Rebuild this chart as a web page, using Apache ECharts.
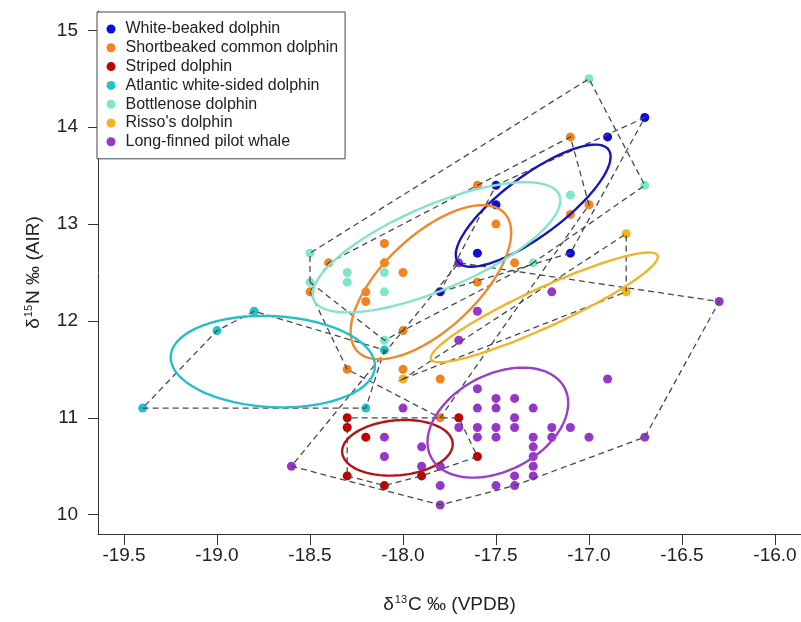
<!DOCTYPE html>
<html>
<head>
<meta charset="utf-8">
<script src="https://cdn.jsdelivr.net/npm/echarts@6/dist/echarts.min.js"></script>
<style>
  html, body { margin: 0; padding: 0; background: #fff; }
  #chart { width: 801px; height: 622px; }
</style>
</head>
<body>
<div id="chart"></div>
<script>
// Arten (Reihenfolge wie Legende)
const speciesNames = [
  "White-beaked dolphin",
  "Shortbeaked common dolphin",
  "Striped dolphin",
  "Atlantic white-sided dolphin",
  "Bottlenose dolphin",
  "Risso's dolphin",
  "Long-finned pilot whale"
];

// d13C (x) und d15N (y) je Art
const whiteBeakedX = [-16.7, -16.9, -17.5, -17.5, -17.6, -17.1, -17.8];
const whiteBeakedY = [14.1, 13.9, 13.4, 13.2, 12.7, 12.7, 12.3];

const commonX = [-17.1, -17.0, -17.1, -17.6, -17.5, -18.1, -18.4, -18.1, -18.0, -18.5,
                 -18.2, -18.2, -17.4, -17.6, -18.0, -18.3, -18.0, -17.8, -17.8];
const commonY = [13.9, 13.2, 13.1, 13.4, 13.0, 12.8, 12.6, 12.6, 12.5, 12.3,
                 12.3, 12.2, 12.6, 12.4, 11.9, 11.5, 11.5, 11.4, 11.0];

const stripedX = [-18.3, -18.3, -18.2, -17.7, -17.6, -18.3, -18.1, -17.9];
const stripedY = [11.0, 10.9, 10.8, 11.0, 10.6, 10.4, 10.3, 10.4];

const atlanticX = [-19.4, -19.0, -18.8, -18.1, -18.2];
const atlanticY = [11.1, 11.9, 12.1, 11.7, 11.1];

const bottlenoseX = [-17.0, -16.7, -17.1, -18.5, -18.5, -18.3, -18.3, -18.1, -18.1, -17.3, -18.1];
const bottlenoseY = [14.5, 13.4, 13.3, 12.7, 12.4, 12.5, 12.4, 12.5, 12.3, 12.6, 11.8];

const rissoX = [-16.8, -16.8, -18.0];
const rissoY = [12.9, 12.3, 11.4];

const pilotX = [-17.7, -17.6, -17.2, -16.3, -17.7, -16.9, -16.7, -17.6, -17.5, -17.4,
                -18.0, -17.6, -17.5, -17.3, -17.4, -17.7, -17.6, -17.5, -17.4, -17.2,
                -17.1, -18.1, -17.6, -17.5, -17.3, -17.2, -17.0, -17.9, -17.3, -18.1,
                -17.3, -17.9, -17.8, -17.3, -17.4, -17.3, -17.8, -17.5, -17.4, -17.8, -18.6];
const pilotY = [12.6, 12.1, 12.3, 12.2, 11.8, 11.4, 10.8, 11.3, 11.2, 11.2,
                11.1, 11.1, 11.1, 11.1, 11.0, 10.9, 10.9, 10.9, 10.9, 10.9,
                10.9, 10.8, 10.8, 10.8, 10.8, 10.8, 10.8, 10.7, 10.7, 10.6,
                10.6, 10.5, 10.5, 10.5, 10.4, 10.4, 10.3, 10.3, 10.3, 10.1, 10.5];

const speciesX = [whiteBeakedX, commonX, stripedX, atlanticX, bottlenoseX, rissoX, pilotX];
const speciesY = [whiteBeakedY, commonY, stripedY, atlanticY, bottlenoseY, rissoY, pilotY];

// Standardellipsen: Mittelpunkt und zwei Halbachsen-Vektoren (aus der Abbildung geschaetzt)
const ellipseCX = [-17.30, -17.85, -18.03, -18.70, -17.82, -17.24, -17.49];
const ellipseCY = [13.19, 12.40, 10.69, 11.58, 12.76, 12.14, 10.95];
const ellipseUX = [0.405, 0.396, 0.297, 0.549, 0.660, 0.609, 0.359];
const ellipseUY = [0.579, 0.712, 0.050, -0.055, 0.541, 0.536, 0.358];
const ellipseVX = [-0.096, -0.172, -0.013, 0.013, -0.088, -0.044, -0.119];
const ellipseVY = [0.250, 0.355, 0.283, 0.469, 0.399, 0.183, 0.441];

// Achsenbeschriftung
const xTicks = [-19.5, -19.0, -18.5, -18.0, -17.5, -17.0, -16.5, -16.0];
const yTicks = [10, 11, 12, 13, 14, 15];

const pointColors = ['#0c0cdc', '#f3831f', '#c00000', '#22c3c9', '#80e6c9', '#f7b31e', '#9538c9'];
const ellipseColors = ['#1717b4', '#ee8a2a', '#b41414', '#25bfc6', '#86e3cb', '#f2b52a', '#9a3fc7'];

function convexHull(xs, ys) {
  const pts = xs.map((x, i) => [x, ys[i]]).sort((a, b) => a[0] - b[0] || a[1] - b[1]);
  const cross = (o, a, b) => (a[0] - o[0]) * (b[1] - o[1]) - (a[1] - o[1]) * (b[0] - o[0]);
  const lower = [], upper = [];
  for (const p of pts) {
    while (lower.length >= 2 && cross(lower[lower.length - 2], lower[lower.length - 1], p) <= 0) lower.pop();
    lower.push(p);
  }
  for (let i = pts.length - 1; i >= 0; i--) {
    const p = pts[i];
    while (upper.length >= 2 && cross(upper[upper.length - 2], upper[upper.length - 1], p) <= 0) upper.pop();
    upper.push(p);
  }
  upper.pop();
  lower.pop();
  return lower.concat(upper);
}

document.addEventListener("DOMContentLoaded", () => {
  const chartDom = document.getElementById('chart');
  const myChart = echarts.init(chartDom);

  const font = 'Liberation Sans, Arial, sans-serif';
  const hulls = speciesX.map((xs, i) => convexHull(xs, speciesY[i]));

  // 1. Punkte je Art
  const scatterSeries = speciesNames.map((name, i) => ({
    name: name,
    type: 'scatter',
    symbol: 'circle',
    symbolSize: 9,
    z: 2,
    silent: true,
    itemStyle: { color: pointColors[i], opacity: 1 },
    data: speciesX[i].map((x, k) => [x, speciesY[i][k]])
  }));

  // 2. Konvexe Huellen (gestrichelt)
  const hullSeries = {
    name: 'hulls',
    type: 'custom',
    z: 3,
    silent: true,
    data: speciesNames.map((n, i) => [ellipseCX[i], ellipseCY[i], i]),
    renderItem: (params, api) => {
      const hull = hulls[api.value(2)];
      return {
        type: 'polygon',
        shape: { points: hull.map(p => api.coord(p)) },
        style: { fill: 'none', stroke: '#4a4a4a', lineWidth: 1.3, lineDash: [6, 4] }
      };
    }
  };

  // 3. Ellipsen
  const ellipseSeries = {
    name: 'ellipses',
    type: 'custom',
    z: 4,
    silent: true,
    data: speciesNames.map((n, i) => [ellipseCX[i], ellipseCY[i], i]),
    renderItem: (params, api) => {
      const i = api.value(2);
      const pts = [];
      for (let k = 0; k < 120; k++) {
        const t = k / 120 * Math.PI * 2;
        pts.push(api.coord([
          ellipseCX[i] + ellipseUX[i] * Math.cos(t) + ellipseVX[i] * Math.sin(t),
          ellipseCY[i] + ellipseUY[i] * Math.cos(t) + ellipseVY[i] * Math.sin(t)
        ]));
      }
      return {
        type: 'polygon',
        shape: { points: pts },
        style: { fill: 'none', stroke: ellipseColors[i], lineWidth: 2.4 }
      };
    }
  };

  const richName = {
    n: { fontSize: 19, fontFamily: font, color: '#222', lineHeight: 22 },
    s: { fontSize: 11, fontFamily: font, color: '#222', lineHeight: 22, verticalAlign: 'top', padding: [0, 1, 0, 1] }
  };

  const option = {
    animation: false,
    backgroundColor: '#fff',
    textStyle: { fontFamily: font },
    grid: { left: 98, right: 0, top: 11, bottom: 88 },
    legend: {
      data: speciesNames,
      orient: 'vertical',
      left: 97,
      top: 12,
      icon: 'circle',
      itemWidth: 9,
      itemHeight: 9,
      itemGap: 2.8,
      padding: [9, 7, 9, 9.5],
      borderColor: '#444',
      borderWidth: 1,
      backgroundColor: '#fff',
      selectedMode: false,
      z: 10,
      textStyle: { fontSize: 16, color: '#222', lineHeight: 16, fontFamily: font, padding: [0, 0, 0, 5] }
    },
    xAxis: {
      type: 'value',
      min: -19.64,
      max: -15.86,
      name: '{n|δ}{s|13}{n|C ‰ (VPDB)}',
      nameLocation: 'middle',
      nameGap: 60,
      nameTextStyle: { rich: richName },
      axisLine: { show: true, lineStyle: { color: '#333', width: 1 } },
      axisTick: { show: true, length: 11, customValues: xTicks, lineStyle: { color: '#333' } },
      axisLabel: {
        customValues: xTicks,
        fontSize: 19,
        color: '#222',
        margin: 12,
        fontFamily: font,
        formatter: v => v.toFixed(1)
      },
      splitLine: { show: false }
    },
    yAxis: {
      type: 'value',
      min: 9.8,
      max: 15.2,
      name: '{n|δ}{s|15}{n|N ‰ (AIR)}',
      nameLocation: 'middle',
      nameGap: 53,
      nameTextStyle: { rich: richName },
      axisLine: { show: true, lineStyle: { color: '#333', width: 1 } },
      axisTick: { show: true, length: 10, customValues: yTicks, lineStyle: { color: '#333' } },
      axisLabel: {
        customValues: yTicks,
        fontSize: 19,
        color: '#222',
        margin: 20,
        fontFamily: font
      },
      splitLine: { show: false }
    },
    series: [...scatterSeries, hullSeries, ellipseSeries]
  };

  myChart.setOption(option);

  window.addEventListener('resize', () => {
    myChart.resize();
  });
});
</script>
</body>
</html>
